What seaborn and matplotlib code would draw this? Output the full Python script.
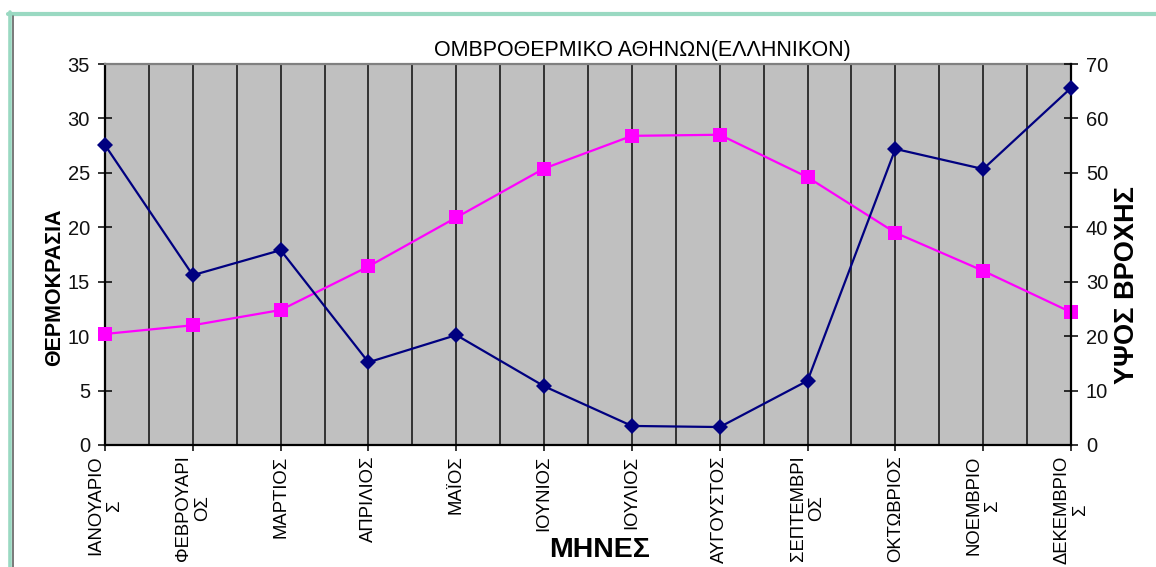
import matplotlib
matplotlib.use("Agg")
import matplotlib.pyplot as plt
from matplotlib.ticker import MultipleLocator
from matplotlib.lines import Line2D
import seaborn as sns

months = ["ΙΑΝΟΥΑΡΙΟ\nΣ", "ΦΕΒΡΟΥΑΡΙ\nΟΣ", "ΜΑΡΤΙΟΣ", "ΑΠΡΙΛΙΟΣ", "ΜΑΪΟΣ", "ΙΟΥΝΙΟΣ",
          "ΙΟΥΛΙΟΣ", "ΑΥΓΟΥΣΤΟΣ", "ΣΕΠΤΕΜΒΡΙ\nΟΣ", "ΟΚΤΩΒΡΙΟΣ", "ΝΟΕΜΒΡΙΟ\nΣ", "ΔΕΚΕΜΒΡΙΟ\nΣ"]
temperature = [10.2, 11.0, 12.4, 16.4, 20.9, 25.4, 28.4, 28.5, 24.6, 19.5, 16.0, 12.2]
rainfall = [55.1, 31.2, 35.8, 15.2, 20.2, 10.8, 3.5, 3.3, 11.8, 54.4, 50.7, 65.6]

title = "ΟΜΒΡΟΘΕΡΜΙΚΟ ΑΘΗΝΩΝ(ΕΛΛΗΝΙΚΟΝ)"
xlabel = "ΜΗΝΕΣ"
ylabel_left = "ΘΕΡΜΟΚΡΑΣΙΑ"
ylabel_right = "ΥΨΟΣ ΒΡΟΧΗΣ"

sns.set_style("white")
plt.rcParams['font.family'] = ['Liberation Sans', 'DejaVu Sans']
plt.rcParams['text.color'] = 'black'
plt.rcParams['axes.labelcolor'] = 'black'
plt.rcParams['xtick.color'] = 'black'
plt.rcParams['ytick.color'] = 'black'

W, H = 1156, 567
fig = plt.figure(figsize=(W / 100, H / 100), dpi=100)

L, R, T, B = 105, 1071, 64, 445
ax = fig.add_axes([L / W, 1 - B / H, (R - L) / W, (B - T) / H])
ax.set_facecolor("#C0C0C0")

sns.lineplot(x=months, y=temperature, ax=ax, color="#FF00FF", marker="s",
             markersize=9.5, markeredgewidth=0, linewidth=1.6, sort=False, zorder=3,
             clip_on=False)

ax2 = ax.twinx()
sns.lineplot(x=months, y=rainfall, ax=ax2, color="#000080", marker="D",
             markersize=7.8, markeredgewidth=0, linewidth=1.6, sort=False, zorder=3,
             clip_on=False)

ax.set_xlim(0, 11)
ax.set_ylim(0, 35)
ax2.set_ylim(0, 70)
ax.set_yticks(range(0, 36, 5))
ax2.set_yticks(range(0, 71, 10))
ax.set_xticks(range(12))
ax.set_xticklabels(months, rotation=90, ha="center", va="top", fontsize=13.3,
                   linespacing=1.15)
ax.xaxis.set_minor_locator(MultipleLocator(0.5))
ax.grid(True, axis="x", which="both", color="#1a1a1a", linewidth=1.2)
ax.grid(False, axis="y")
ax.set_axisbelow(True)

ax.set_xlabel("")
ax.set_ylabel("")
ax2.set_ylabel("")

ax.tick_params(axis="y", direction="inout", length=9.5, width=1.1, labelsize=14.5,
               pad=6, colors="#000000", left=True)
ax.tick_params(axis="x", which="major", direction="out", length=4.5, width=1.1, pad=3,
               bottom=True, colors="#000000")
ax.tick_params(axis="x", which="minor", length=0)
ax2.tick_params(axis="y", direction="inout", length=9.5, width=1.1, labelsize=14.5,
                pad=6, right=True, colors="#000000")
for lab in ax.get_yticklabels() + ax2.get_yticklabels():
    lab.set_color("#111111")

for s in ["left", "bottom"]:
    ax.spines[s].set_color("#000000")
    ax.spines[s].set_linewidth(1.6)
ax.spines["top"].set_color("#808080")
ax.spines["top"].set_linewidth(1.6)
ax.spines["right"].set_visible(False)
for s in ["left", "bottom", "top"]:
    ax2.spines[s].set_visible(False)
ax2.spines["right"].set_color("#000000")
ax2.spines["right"].set_linewidth(1.6)

fig.text(642.5 / W, 1 - 50.5 / H, title, ha="center", va="center", fontsize=15.5,
         color="black")
fig.text(600 / W, 1 - 550 / H, xlabel, ha="center", va="center", fontsize=20.5,
         fontweight="bold", color="black")
fig.text(54.5 / W, 1 - 287 / H, ylabel_left, ha="center", va="center", fontsize=15.5,
         fontweight="bold", rotation=90, color="black")
fig.text(1127.5 / W, 1 - 285 / H, ylabel_right, ha="center", va="center", fontsize=19.5,
         fontweight="bold", rotation=90, color="black")

# outer frame of the original chart object
green = "#9AD9C2"
fig.add_artist(Line2D([8 / W, 1.0], [1 - 13.7 / H, 1 - 13.7 / H], transform=fig.transFigure,
                      color=green, linewidth=3))
fig.add_artist(Line2D([10 / W, 10 / W], [1 - 12 / H, 0], transform=fig.transFigure,
                      color=green, linewidth=2.6))
fig.add_artist(Line2D([12.6 / W, 12.6 / W], [1 - 15.5 / H, 0], transform=fig.transFigure,
                      color="#555555", linewidth=1.1))

fig.savefig("out.png", dpi=100)
